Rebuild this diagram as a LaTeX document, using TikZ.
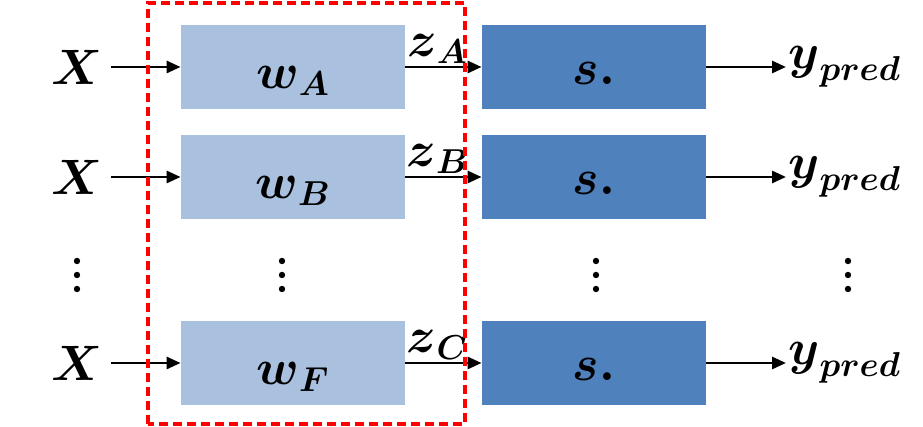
\documentclass[tikz,border=0pt]{standalone}
\usepackage{amsmath}
\usetikzlibrary{arrows.meta,positioning}
\definecolor{wfill}{RGB}{169,192,222}
\definecolor{sfill}{RGB}{79,129,189}
\tikzset{
  wbox/.style={fill=wfill, minimum width=112pt, minimum height=42pt, inner sep=0pt},
  sbox/.style={fill=sfill, minimum width=112pt, minimum height=42pt, inner sep=0pt},
  lbl/.style={font=\fontsize{25}{30}\selectfont, inner sep=1pt},
  flow/.style={line width=1.4pt, -{Triangle[length=7pt,width=6pt]}}
}
\begin{document}
\begin{tikzpicture}[x=0.5pt,y=0.5pt]
\useasboundingbox (0,0) rectangle (923,427);

\foreach \name/\wsub/\zsub/\yy in {a/A/A/360, b/B/B/250, f/F/C/64}{
  \node[lbl, outer xsep=3pt] (x\name) at (77,\yy) {$\boldsymbol{X}$};
  \node[wbox] (w\name) at (293,\yy) {};
  \node[lbl] at ([yshift=-7pt]w\name.center) {$\boldsymbol{w}_{\boldsymbol{\wsub}}$};
  \node[sbox] (s\name) at (594,\yy) {};
  \node[lbl] at ([yshift=-3pt]s\name.center) {$\boldsymbol{s.}$};
  \node[lbl, anchor=west, font=\fontsize{27}{32}\selectfont] (y\name) at (786,\yy) {$\boldsymbol{y}_{\boldsymbol{pred}}$};

  \draw[flow] (x\name) -- (w\name);
  \draw[flow] (w\name) -- node[lbl, midway, above, xshift=-3pt] {$\boldsymbol{z}_{\boldsymbol{\zsub}}$} (s\name);
  \draw[flow] (s\name) -- (y\name.west);
}

% vertical dots
\foreach \xx in {77, 282, 596, 848}
  \foreach \dy in {0, 14, 28}
    \fill (\xx, 166-\dy) circle (1.6pt);

\draw[red, line width=1.8pt, dash pattern=on 4.5pt off 2.5pt]
  (148,3) rectangle (465,424);

\end{tikzpicture}
\end{document}
